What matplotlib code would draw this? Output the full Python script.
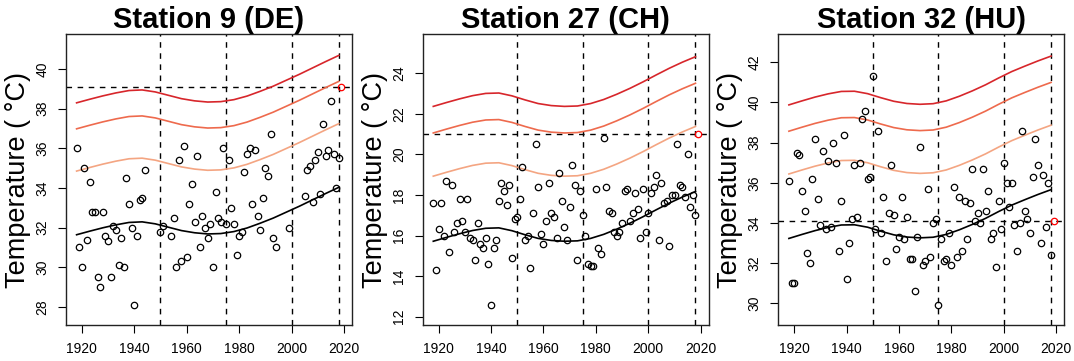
import matplotlib
matplotlib.use("Agg")
import matplotlib.pyplot as plt

plt.rcParams['font.family'] = ['Liberation Sans', 'DejaVu Sans']

# ---- data ----
titles = ["Station 9 (DE)", "Station 27 (CH)", "Station 32 (HU)"]

years_de = [1918, 1919, 1920, 1921, 1922, 1923, 1924, 1925, 1926, 1927, 1928, 1929, 1930,
            1931, 1932, 1933, 1934, 1935, 1936, 1937, 1938, 1939, 1940, 1941, 1942, 1943,
            1944, 1950, 1951, 1954, 1955, 1956, 1957, 1958, 1959, 1960, 1961, 1962, 1963,
            1964, 1965, 1966, 1967, 1968, 1969, 1970, 1971, 1972, 1973, 1974, 1975, 1976,
            1977, 1978, 1979, 1980, 1981, 1982, 1983, 1984, 1985, 1986, 1987, 1988, 1989,
            1990, 1991, 1992, 1993, 1994, 1999, 2005, 2006, 2007, 2008, 2009, 2010, 2011,
            2012, 2013, 2014, 2015, 2016, 2017, 2018]
temp_de = [36.0, 31.0, 30.0, 35.0, 31.4, 34.3, 32.8, 32.8, 29.5, 29.0, 32.8, 31.6, 31.3,
           29.5, 32.1, 31.9, 30.1, 31.5, 30.0, 34.5, 33.2, 32.0, 28.1, 31.6, 33.4, 33.5,
           34.9, 31.8, 32.1, 31.6, 32.5, 30.0, 35.4, 30.3, 36.1, 30.5, 33.2, 34.2, 32.3,
           35.6, 31.0, 32.6, 32.0, 31.5, 32.2, 30.0, 33.8, 32.5, 32.3, 36.0, 32.2, 35.4,
           33.0, 32.2, 30.6, 31.6, 31.8, 34.8, 35.7, 36.0, 33.2, 35.9, 32.6, 31.9, 33.5,
           35.0, 34.6, 36.7, 31.5, 31.0, 32.0, 33.6, 34.9, 35.1, 33.3, 35.4, 35.8, 33.7,
           37.2, 35.6, 35.9, 38.4, 35.7, 34.0, 35.5]

years_full = list(range(1918, 2019))
temp_ch = [17.6, 14.3, 16.3, 17.6, 16.0, 18.7, 15.2, 18.5, 16.2, 16.6, 17.8, 16.7, 16.2,
           17.8, 15.9, 15.8, 14.8, 16.6, 15.6, 15.4, 15.9, 14.6, 12.6, 15.4, 15.8, 17.7,
           18.6, 18.2, 17.5, 18.5, 14.9, 16.8, 16.9, 17.8, 19.4, 15.8, 16.0, 14.4, 17.1,
           20.5, 18.4, 16.1, 15.6, 16.7, 18.6, 17.1, 16.9, 15.9, 19.1, 17.7, 16.4, 15.8,
           17.4, 19.5, 18.5, 14.8, 18.2, 17.0, 16.0, 14.6, 14.5, 14.5, 18.3, 15.4, 15.1,
           20.8, 18.4, 17.2, 17.1, 16.2, 16.0, 16.2, 16.6, 18.2, 18.3, 16.7, 17.1, 18.1,
           17.3, 15.9, 18.3, 16.2, 17.1, 18.1, 18.4, 19.0, 15.8, 18.6, 17.6, 17.7, 15.5,
           18.0, 18.0, 20.5, 18.5, 18.4, 17.9, 20.0, 17.4, 18.0, 17.0]
temp_hu = [36.1, 31.0, 31.0, 37.5, 37.4, 35.6, 34.6, 32.5, 32.0, 36.2, 38.2, 35.2, 33.9,
           37.6, 33.7, 37.1, 33.8, 38.0, 37.0, 32.6, 35.1, 38.4, 31.2, 33.0, 34.2, 36.9,
           34.3, 37.0, 39.2, 39.6, 36.2, 36.3, 41.3, 33.7, 38.6, 33.5, 35.3, 32.1, 34.5,
           36.9, 34.4, 32.7, 33.3, 35.3, 33.2, 34.3, 32.2, 32.2, 30.6, 33.3, 37.8, 31.9,
           32.1, 35.7, 32.3, 34.0, 34.2, 29.9, 33.2, 32.1, 32.2, 33.5, 31.9, 35.8, 32.3,
           35.3, 32.6, 35.1, 33.2, 35.0, 36.7, 34.1, 34.5, 34.0, 36.7, 34.6, 35.6, 33.2,
           33.5, 31.8, 35.1, 33.7, 37.0, 36.0, 34.8, 36.0, 33.9, 32.6, 34.0, 38.6, 34.6,
           34.2, 33.5, 36.3, 38.2, 36.9, 33.0, 36.4, 33.8, 36.0, 32.4]

# 2019 value (red point, dashed horizontal line)
year_2019 = 2019
value_2019 = [39.1, 21.0, 34.1]

# fitted location curve and return level curves
curve_years = [1918, 1923, 1928, 1933, 1938, 1943, 1948, 1953, 1958, 1963, 1968,
               1973, 1978, 1983, 1988, 1993, 1998, 2003, 2008, 2013, 2018]
loc_de = [31.64, 31.82, 31.99, 32.14, 32.26, 32.29, 32.19, 32.02, 31.85, 31.74, 31.68,
          31.70, 31.80, 31.98, 32.22, 32.48, 32.78, 33.08, 33.40, 33.72, 34.03]
rl1_de = [34.85, 35.03, 35.20, 35.35, 35.47, 35.50, 35.40, 35.23, 35.06, 34.95, 34.89,
          34.91, 35.01, 35.19, 35.43, 35.69, 35.99, 36.29, 36.61, 36.93, 37.24]
rl2_de = [36.98, 37.16, 37.33, 37.48, 37.60, 37.63, 37.53, 37.36, 37.19, 37.08, 37.02,
          37.04, 37.14, 37.32, 37.56, 37.82, 38.12, 38.42, 38.74, 39.06, 39.37]
rl3_de = [38.29, 38.47, 38.64, 38.79, 38.91, 38.94, 38.84, 38.67, 38.50, 38.39, 38.33,
          38.35, 38.45, 38.63, 38.87, 39.13, 39.43, 39.73, 40.05, 40.37, 40.68]

loc_ch = [15.72, 15.91, 16.09, 16.25, 16.36, 16.38, 16.24, 16.04, 15.86, 15.76, 15.72,
          15.74, 15.86, 16.06, 16.32, 16.61, 16.93, 17.27, 17.60, 17.90, 18.17]
rl1_ch = [18.93, 19.12, 19.30, 19.46, 19.57, 19.59, 19.45, 19.25, 19.07, 18.97, 18.93,
          18.95, 19.07, 19.27, 19.53, 19.82, 20.14, 20.48, 20.81, 21.11, 21.38]
rl2_ch = [21.06, 21.25, 21.43, 21.59, 21.70, 21.72, 21.58, 21.38, 21.20, 21.10, 21.06,
          21.08, 21.20, 21.40, 21.66, 21.95, 22.27, 22.61, 22.94, 23.24, 23.51]
rl3_ch = [22.37, 22.56, 22.74, 22.90, 23.01, 23.03, 22.89, 22.69, 22.51, 22.41, 22.37,
          22.39, 22.51, 22.71, 22.97, 23.26, 23.58, 23.92, 24.25, 24.55, 24.82]

loc_hu = [33.23, 33.43, 33.62, 33.78, 33.90, 33.91, 33.79, 33.59, 33.41, 33.30, 33.26,
          33.29, 33.43, 33.66, 33.93, 34.23, 34.57, 34.89, 35.16, 35.42, 35.66]
rl1_hu = [36.44, 36.64, 36.83, 36.99, 37.11, 37.12, 37.00, 36.80, 36.62, 36.51, 36.47,
          36.50, 36.64, 36.87, 37.14, 37.44, 37.78, 38.10, 38.37, 38.63, 38.87]
rl2_hu = [38.57, 38.77, 38.96, 39.12, 39.24, 39.25, 39.13, 38.93, 38.75, 38.64, 38.60,
          38.63, 38.77, 39.00, 39.27, 39.57, 39.91, 40.23, 40.50, 40.76, 41.00]
rl3_hu = [39.88, 40.08, 40.27, 40.43, 40.55, 40.56, 40.44, 40.24, 40.06, 39.95, 39.91,
          39.94, 40.08, 40.31, 40.58, 40.88, 41.22, 41.54, 41.81, 42.07, 42.31]

period_lines = [1950, 1975, 2000, 2018]

yticks = [[28, 30, 32, 34, 36, 38, 40],
          [12, 14, 16, 18, 20, 22, 24],
          [30, 32, 34, 36, 38, 40, 42]]
ylims = [(27.09, 41.76), (11.59, 25.94), (28.92, 43.41)]
xticks = [1920, 1940, 1960, 1980, 2000, 2020]

rl_colors = ['#F4A582', '#EE6A4D', '#D7262B']


def draw_panel(ax, title, years, temps, loc, rls, val19, ylim, yt):
    for x in period_lines:
        ax.axvline(x, color='black', lw=1, ls=(0, (4, 4)), zorder=1)
    ax.axhline(val19, color='black', lw=1, ls=(0, (4, 4)), zorder=1)

    ax.plot(curve_years, loc, color='black', lw=1.2, zorder=3)
    for rl, c in zip(rls, rl_colors):
        ax.plot(curve_years, rl, color=c, lw=1.2, zorder=3)

    ax.plot(years, temps, 'o', mfc='none', mec='black', ms=4.6, mew=0.9, zorder=4)
    ax.plot([year_2019], [val19], 'o', mfc='none', mec='red', ms=4.6, mew=0.9, zorder=4)

    ax.set_xlim(1913.96, 2023.04)
    ax.set_ylim(*ylim)
    ax.set_xticks(xticks)
    ax.set_yticks(yt)
    ax.tick_params(direction='out', length=6, width=0.8, labelsize=10, pad=6)
    for lab in ax.get_yticklabels():
        lab.set_rotation(90)
        lab.set_va('center')
    for sp in ax.spines.values():
        sp.set_linewidth(1.0)
        sp.set_color('#222222')
    ax.set_title(title, fontsize=21, fontweight='bold', pad=4)
    ax.set_ylabel("Temperature ( \u00b0C)", fontsize=19.5, labelpad=3)


fig = plt.figure(figsize=(10.74, 3.61), dpi=100)
lefts = [66, 422.7, 778.3]
axes = [fig.add_axes([l / 1074, 36 / 361, 286 / 1074, 291 / 361]) for l in lefts]

draw_panel(axes[0], titles[0], years_de, temp_de, loc_de,
           [rl1_de, rl2_de, rl3_de], value_2019[0], ylims[0], yticks[0])
draw_panel(axes[1], titles[1], years_full, temp_ch, loc_ch,
           [rl1_ch, rl2_ch, rl3_ch], value_2019[1], ylims[1], yticks[1])
draw_panel(axes[2], titles[2], years_full, temp_hu, loc_hu,
           [rl1_hu, rl2_hu, rl3_hu], value_2019[2], ylims[2], yticks[2])

fig.savefig("out.png", dpi=100)
